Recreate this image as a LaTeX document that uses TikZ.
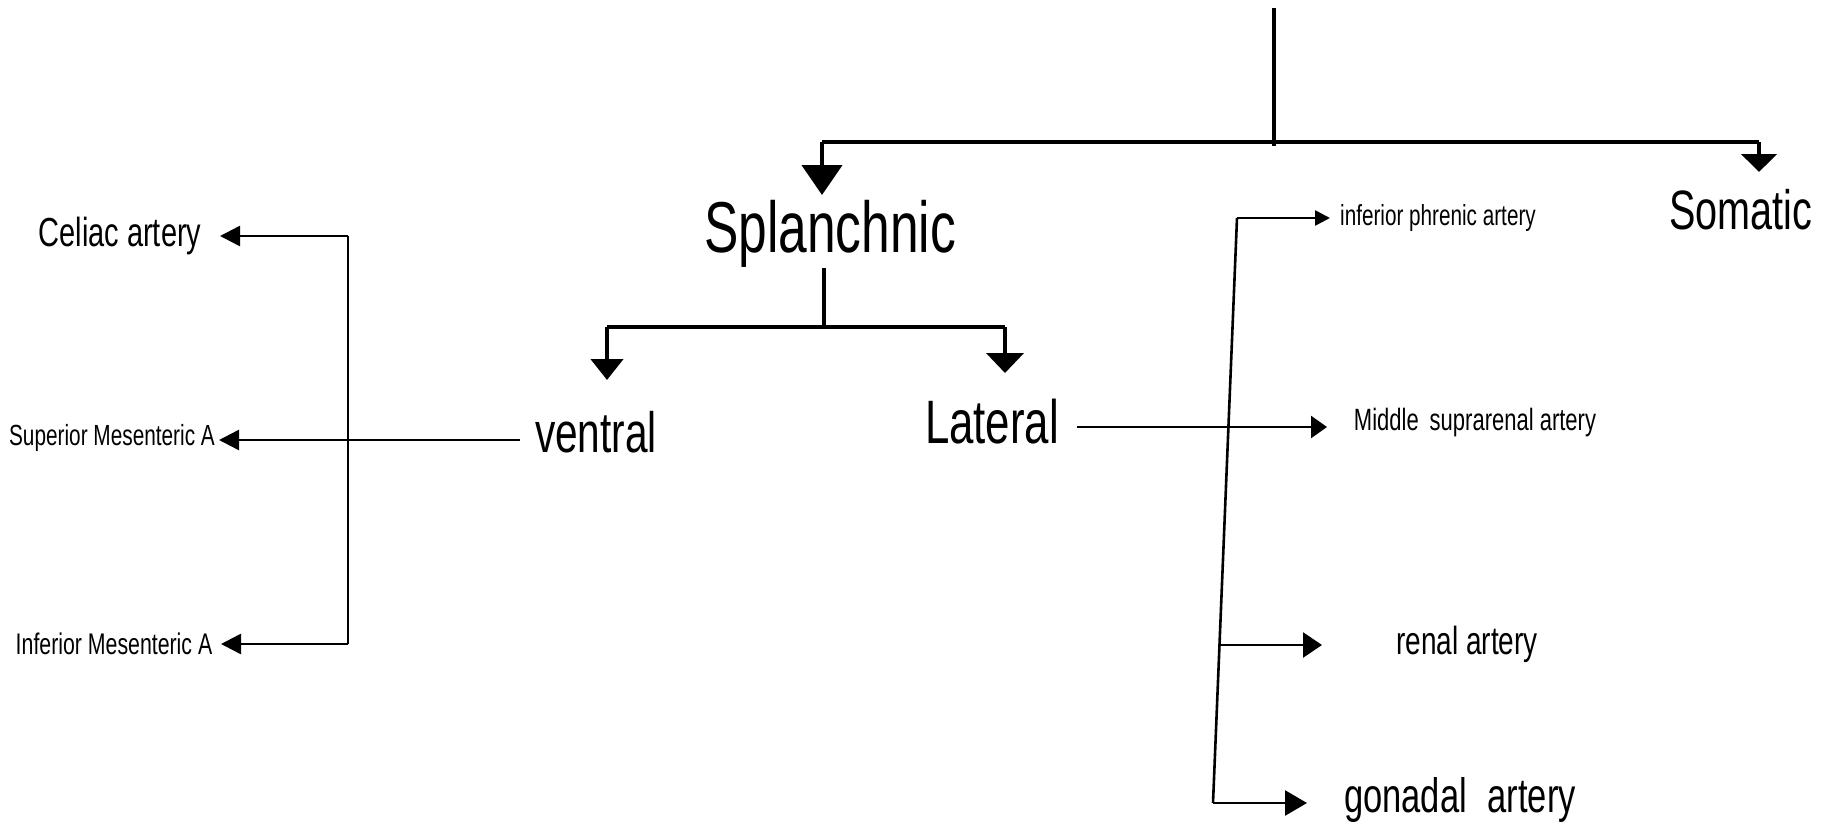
\documentclass[tikz,border=0pt]{standalone}
\usepackage{fontspec}
\setmainfont{Liberation Sans}
\usetikzlibrary{arrows.meta}
\newcommand{\hwtext}[1]{\scalebox{1}[1.4]{#1}}
\begin{document}
\begin{tikzpicture}[x=1pt,y=-1pt,
  lbl/.style={inner sep=0pt, anchor=center},
  fs/.style={font=\fontsize{#1pt}{#1pt}\selectfont},
  trunk/.style={line width=4.5pt, line join=round},
  stem/.style={line width=3.2pt},
  twig/.style={line width=2.6pt},
  downtip/.style 2 args={-{Triangle[length=#1pt,width=#2pt]}},
  sidetip/.style 2 args={-{Triangle[length=#1pt,width=#2pt]}}]
\useasboundingbox (0,0) rectangle (1824,825);

% labels
\node[lbl,fs=51.5] (spl) at (830,234) {\hwtext{Splanchnic}};
\node[lbl,fs=39.6] (som) at (1741,210) {\hwtext{Somatic}};
\node[lbl,fs=40.6] (ven) at (596,432) {\hwtext{ventral}};
\node[lbl,fs=43.8] (lat) at (992,422) {\hwtext{Lateral}};
\node[lbl,fs=29] (cel) at (120,236) {\hwtext{Celiac artery}};
\node[lbl,fs=20.8] (sma) at (112,438) {\hwtext{Superior Mesenteric A}};
\node[lbl,fs=21.3] (ima) at (114,644) {\hwtext{Inferior Mesenteric A}};
\node[lbl,fs=20.7] (ipa) at (1438,218) {\hwtext{inferior phrenic artery}};
\node[lbl,fs=22] (msa) at (1475,423) {\hwtext{Middle\hspace{0.5em}suprarenal artery}};
\node[lbl,fs=28] (ren) at (1467,644) {\hwtext{renal artery}};
\node[lbl,fs=34.5] (gon) at (1460,800) {\hwtext{gonadal\hspace{0.6em}artery}};

% coordinates
\coordinate (t0) at (1274,8);
\coordinate (t1) at (1274,146);
\coordinate (b1) at (822,142);
\coordinate (b2) at (1759,142);
\coordinate (splTip) at (822,195);
\coordinate (somTip) at (1759,172);
\coordinate (s0) at (824,268);
\coordinate (s1) at (824,327);
\coordinate (c1) at (607,327);
\coordinate (c2) at (1005,327);
\coordinate (venTip) at (607,380);
\coordinate (latTip) at (1005,373);
\coordinate (venStart) at (520,440);
\coordinate (v1) at (348,236);
\coordinate (v2) at (348,440);
\coordinate (v3) at (348,644);
\coordinate (celTip) at (220,236);
\coordinate (smaTip) at (219,440);
\coordinate (imaTip) at (221,644);
\coordinate (latStart) at (1077,427);
\coordinate (r1) at (1237,218);
\coordinate (r3) at (1220,645);
\coordinate (r4) at (1213,803);
\coordinate (ipaTip) at (1330,218);
\coordinate (msaTip) at (1327,427);
\coordinate (renTip) at (1322,645);
\coordinate (gonTip) at (1307,803);

% top level
\draw[stem] (t0) -- (t1);
\draw[trunk] (b1) -- (b2);
\draw[trunk,downtip={30}{40}] (b1) -- (splTip);
\draw[trunk,downtip={18}{35}] (b2) -- (somTip);

% splanchnic level
\draw[stem] (s0) -- (s1);
\draw[trunk] (c1) -- (c2);
\draw[trunk,downtip={21}{32}] (c1) -- (venTip);
\draw[trunk,downtip={20}{37}] (c2) -- (latTip);

% ventral branches
\draw[twig,sidetip={20}{20}] (venStart) -- (smaTip);
\draw[twig] (v1) -- (v3);
\draw[twig,sidetip={20}{20}] (v1) -- (celTip);
\draw[twig,sidetip={20}{20}] (v3) -- (imaTip);

% lateral branches
\draw[twig,sidetip={16}{22}] (latStart) -- (msaTip);
\draw[twig] (r1) -- (r4);
\draw[twig,sidetip={15}{15}] (r1) -- (ipaTip);
\draw[twig,sidetip={19}{25}] (r3) -- (renTip);
\draw[twig,sidetip={22}{25}] (r4) -- (gonTip);
\end{tikzpicture}
\end{document}
